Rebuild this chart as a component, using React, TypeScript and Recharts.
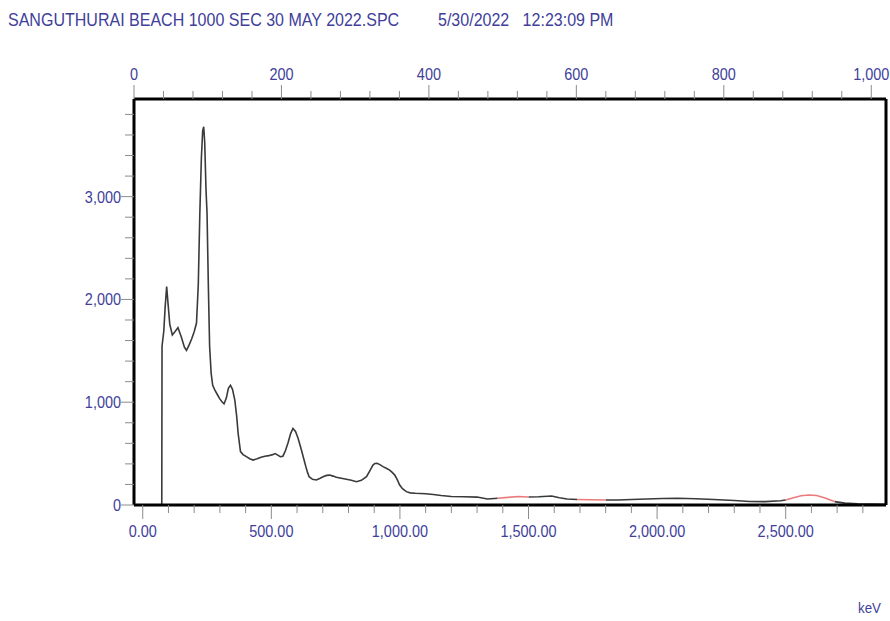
import React from "react";
import { LineChart, Line, XAxis, YAxis } from "recharts";

const TITLE_FILE = "SANGUTHURAI BEACH 1000 SEC 30 MAY 2022.SPC";
const TITLE_DATE = "5/30/2022";
const TITLE_TIME = "12:23:09 PM";
const X_UNIT = "keV";

// Spectrum: energy (keV) and counts
const ENERGY = [
  74, 75, 82, 87, 93, 99, 105, 115, 125, 137, 150, 162, 170, 180, 190, 200, 209, 216, 222, 228,
  233, 237, 241, 246, 250, 255, 260, 266, 272, 280, 290, 299, 308, 316, 325, 333, 341, 349, 358, 365,
  371, 380, 390, 403, 416, 429, 445, 460, 475, 490, 505, 515, 525, 535, 545, 555, 565, 575, 584, 594,
  604, 617, 626, 634, 641, 647, 660, 675, 690, 701, 715, 727, 740, 753, 772, 792, 811, 831, 850, 870,
  884, 895, 903, 911, 922, 934, 947, 960, 970, 980, 990, 999, 1010, 1025, 1040, 1060, 1080, 1100, 1130, 1160,
  1200, 1250, 1300, 1340, 1380, 1420, 1460, 1500, 1540, 1590, 1620, 1650, 1690, 1740, 1800, 1850, 1900, 1960, 2020, 2080,
  2150, 2220, 2300, 2360, 2420, 2480, 2500, 2530, 2560, 2590, 2620, 2650, 2690, 2730, 2780, 2830, 2890,
];
const COUNTS = [
  0, 1545, 1695, 1920, 2125, 1940, 1760, 1655, 1685, 1725, 1635, 1535, 1505, 1555, 1615, 1685, 1770, 2145, 2840, 3375,
  3640, 3680, 3525, 3065, 2840, 2145, 1545, 1280, 1165, 1120, 1075, 1035, 1005, 985, 1040, 1135, 1165, 1125, 1020, 870,
  695, 520, 490, 470, 450, 437, 450, 465, 475, 480, 490, 500, 485, 470, 475, 530, 605, 695, 745, 715,
  650, 535, 450, 375, 315, 275, 250, 243, 260, 275, 288, 291, 281, 270, 260, 250, 240, 227, 240, 275,
  337, 388, 404, 406, 393, 373, 358, 340, 317, 291, 245, 194, 158, 130, 118, 114, 112, 110, 102, 92,
  82, 80, 77, 59, 66, 74, 82, 78, 80, 88, 70, 58, 53, 51, 49, 48, 53, 58, 63, 65,
  61, 53, 44, 34, 33, 41, 49, 70, 90, 97, 92, 70, 33, 18, 12, 10, 8,
];
// Energy ranges drawn in red (regions of interest)
const ROI_START = [1380, 1690, 2500];
const ROI_END = [1500, 1800, 2690];

const ENERGY_TICKS = [
  0, 100, 200, 300, 400, 500, 600, 700, 800, 900, 1000, 1100, 1200, 1300, 1400, 1500, 1600, 1700, 1800, 1900,
  2000, 2100, 2200, 2300, 2400, 2500, 2600, 2700, 2800,
];
const CHANNEL_TICKS = [
  0, 40, 80, 120, 160, 200, 240, 280, 320, 360, 400, 440, 480, 520, 560, 600, 640, 680, 720, 760,
  800, 840, 880, 920, 960, 1000,
];
const COUNT_TICKS = [
  0, 200, 400, 600, 800, 1000, 1200, 1400, 1600, 1800, 2000, 2200, 2400, 2600, 2800, 3000, 3200, 3400, 3600, 3800,
];

const ENERGY_DOMAIN = [-34, 2890];
const CHANNEL_DOMAIN = [0, 1020];
const COUNT_DOMAIN = [0, 3950];

const LABEL_COLOR = "#40409a";
const TICK_COLOR = "#8c8c8c";
const FONT = "'Liberation Sans', Arial, sans-serif";
const SX = 0.85;

const inRoi = (e: number) => ROI_START.some((s, i) => e >= s && e <= ROI_END[i]);
const isEdge = (e: number) => ROI_START.includes(e) || ROI_END.includes(e);

const rows = ENERGY.map((e, i) => ({
  e,
  bk: !inRoi(e) || isEdge(e) ? COUNTS[i] : null,
  roi: inRoi(e) ? COUNTS[i] : null,
}));

const fmtInt = (v: number) => v.toLocaleString("en-US");
const fmtDec = (v: number) => v.toLocaleString("en-US", { minimumFractionDigits: 2, maximumFractionDigits: 2 });

const Label = ({ x, y, anchor, children }: any) => (
  <text
    transform={`translate(${x},${y}) scale(${SX},1)`}
    textAnchor={anchor}
    fill={LABEL_COLOR}
    fontSize={17}
    fontFamily={FONT}
  >
    {children}
  </text>
);

const YTick = (props: any) => {
  const { x, y, payload } = props;
  const v = payload.value;
  const major = v % 1000 === 0;
  return (
    <g>
      <line x1={x - (major ? 13 : 9)} x2={x} y1={y} y2={y} stroke={TICK_COLOR} strokeWidth={1} />
      {major && (
        <Label x={x - 13} y={y + 6} anchor="end">
          {fmtInt(v)}
        </Label>
      )}
    </g>
  );
};

const BottomTick = (props: any) => {
  const { x, y, payload } = props;
  const v = payload.value;
  const major = v % 500 === 0;
  return (
    <g>
      <line x1={x} x2={x} y1={y} y2={y + (major ? 14 : 8)} stroke={TICK_COLOR} strokeWidth={1} />
      {major && (
        <Label x={x} y={y + 32} anchor="middle">
          {fmtDec(v)}
        </Label>
      )}
    </g>
  );
};

const TopTick = (props: any) => {
  const { x, y, payload } = props;
  const v = payload.value;
  const major = v % 200 === 0;
  return (
    <g>
      <line x1={x} x2={x} y1={y - (major ? 14 : 8)} y2={y} stroke={TICK_COLOR} strokeWidth={1} />
      {major && (
        <Label x={x} y={y - 19} anchor="middle">
          {fmtInt(v)}
        </Label>
      )}
    </g>
  );
};

const textStyle: React.CSSProperties = {
  position: "absolute",
  fontFamily: FONT,
  fontSize: 18,
  color: LABEL_COLOR,
  whiteSpace: "pre",
  lineHeight: "20px",
  transform: "scaleX(0.89)",
  transformOrigin: "0 0",
};

export default function App() {
  return (
    <div style={{ position: "absolute", left: 0, top: 0, width: 890, height: 621, background: "#fff", overflow: "hidden" }}>
      <div style={{ ...textStyle, left: 8, top: 10 }}>{TITLE_FILE}</div>
      <div style={{ ...textStyle, left: 438, top: 10 }}>{TITLE_DATE + "   " + TITLE_TIME}</div>
      <div style={{ ...textStyle, left: 858, top: 598, fontSize: 15 }}>{X_UNIT}</div>
      <LineChart width={890} height={621} data={rows} margin={{ top: 0, right: 0, bottom: 0, left: 0 }}>
        <XAxis
          xAxisId="kev"
          dataKey="e"
          type="number"
          orientation="bottom"
          domain={ENERGY_DOMAIN}
          allowDataOverflow
          ticks={ENERGY_TICKS}
          interval={0}
          height={116}
          tickSize={0}
          tickMargin={0}
          tickLine={false}
          tick={<BottomTick />}
          axisLine={{ stroke: "#000", strokeWidth: 3 }}
        />
        <XAxis
          xAxisId="ch"
          dataKey="e"
          type="number"
          orientation="top"
          domain={CHANNEL_DOMAIN}
          allowDataOverflow
          ticks={CHANNEL_TICKS}
          interval={0}
          height={99}
          tickSize={0}
          tickMargin={0}
          tickLine={false}
          tick={<TopTick />}
          axisLine={{ stroke: "#000", strokeWidth: 3 }}
        />
        <YAxis
          yAxisId="y"
          type="number"
          orientation="left"
          domain={COUNT_DOMAIN}
          allowDataOverflow
          ticks={COUNT_TICKS}
          interval={0}
          width={134}
          tickSize={0}
          tickMargin={0}
          tickLine={false}
          tick={<YTick />}
          axisLine={{ stroke: "#000", strokeWidth: 3 }}
        />
        <YAxis
          yAxisId="r"
          type="number"
          orientation="right"
          domain={COUNT_DOMAIN}
          allowDataOverflow
          width={4}
          tick={false}
          tickLine={false}
          axisLine={{ stroke: "#000", strokeWidth: 3 }}
        />
        <Line
          xAxisId="kev"
          yAxisId="y"
          type="linear"
          dataKey="bk"
          stroke="#3a3a3a"
          strokeWidth={1.6}
          dot={false}
          activeDot={false}
          connectNulls={false}
          isAnimationActive={false}
        />
        <Line
          xAxisId="kev"
          yAxisId="y"
          type="linear"
          dataKey="roi"
          stroke="#ec7b7b"
          strokeWidth={1.6}
          dot={false}
          activeDot={false}
          connectNulls={false}
          isAnimationActive={false}
        />
      </LineChart>
    </div>
  );
}
